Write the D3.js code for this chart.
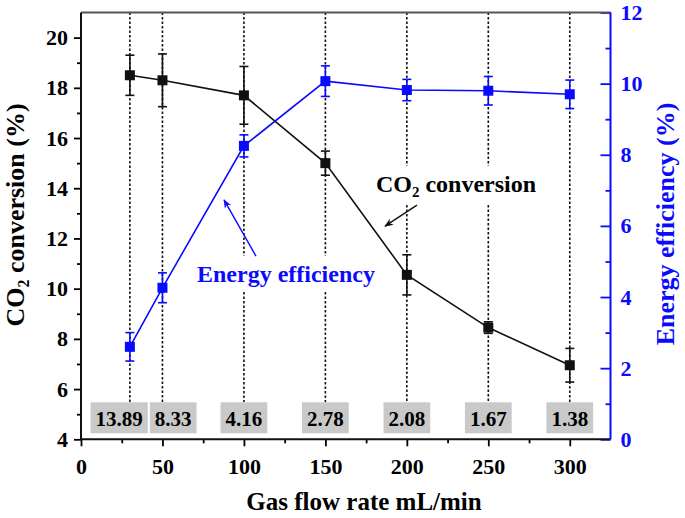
<!DOCTYPE html>
<html>
<head>
<meta charset="utf-8">
<script src="https://cdn.jsdelivr.net/npm/d3@7"></script>
<style>
  html, body { margin: 0; padding: 0; background: #fff; }
  svg { display: block; }
  text { font-family: "Liberation Serif", "Times New Roman", serif; font-weight: bold; }
</style>
</head>
<body>
<svg id="chart" width="685" height="518"></svg>
<script>
// ---------- data ----------
const flowRates = [30, 50, 100, 150, 200, 250, 300];
const co2Conversion = [18.5, 18.3, 17.7, 15.0, 10.55, 8.45, 6.95];
const co2Error = [0.8, 1.05, 1.15, 0.48, 0.8, 0.23, 0.67];
const energyEfficiency = [2.6, 4.26, 8.25, 10.07, 9.82, 9.8, 9.7];
const energyError = [0.4, 0.42, 0.31, 0.43, 0.3, 0.4, 0.4];
const residenceLabels = ["13.89", "8.33", "4.16", "2.78", "2.08", "1.67", "1.38"];
const xTicks = [0, 50, 100, 150, 200, 250, 300];
const xMinorTicks = [25, 75, 125, 175, 225, 275];
const leftTicks = [4, 6, 8, 10, 12, 14, 16, 18, 20];
const leftMinorTicks = [5, 7, 9, 11, 13, 15, 17, 19];
const rightTicks = [0, 2, 4, 6, 8, 10, 12];
const rightMinorTicks = [1, 3, 5, 7, 9, 11];

// ---------- layout ----------
const W = 685, H = 518;
const margin = { left: 81, right: 74.5, top: 12.5, bottom: 78.7 };
const iw = W - margin.left - margin.right;
const ih = H - margin.top - margin.bottom;
const BLUE = "#0a0aff";

const svg = d3.select("#chart");
const g = svg.append("g").attr("transform", `translate(${margin.left},${margin.top})`);

const x = d3.scaleLinear().domain([0, 325]).range([0, iw]);
const yL = d3.scaleLinear().domain([4, 21]).range([ih, 0]);
const yR = d3.scaleLinear().domain([0, 12]).range([ih, 0]);

// ---------- annotation labels (measured first to make gaps in guide lines) ----------
const annot = g.append("g").attr("class", "annot");
const co2Label = annot.append("text")
  .attr("x", x(181)).attr("y", yL(13.85))
  .attr("font-size", 24).attr("fill", "#000");
co2Label.append("tspan").text("CO");
co2Label.append("tspan").attr("font-size", 15).attr("dy", 5).text("2");
co2Label.append("tspan").attr("dy", -5).text(" conversion");

const effLabel = annot.append("text")
  .attr("x", x(71.2)).attr("y", yR(4.42))
  .attr("font-size", 24).attr("fill", BLUE)
  .text("Energy efficiency");

const labelBoxes = [co2Label.node().getBBox(), effLabel.node().getBBox()];

// ---------- residence-time boxes ----------
const boxTop = ih - 37, boxBottom = ih - 6;
const boxG = g.append("g");
const boxTexts = boxG.selectAll("text").data(residenceLabels).join("text")
  .attr("font-size", 21).attr("text-anchor", "middle")
  .attr("y", boxBottom - 7)
  .text(d => d);
let boxes = residenceLabels.map((d, i) => {
  const w = boxTexts.nodes()[i].getComputedTextLength() + 10;
  return { cx: x(flowRates[i]), w };
});
// simple overlap relaxation
for (let it = 0; it < 20; it++) {
  for (let i = 0; i < boxes.length - 1; i++) {
    const a = boxes[i], b = boxes[i + 1];
    const overlap = (a.cx + a.w / 2 + 2) - (b.cx - b.w / 2);
    if (overlap > 0) { a.cx -= overlap / 2; b.cx += overlap / 2; }
  }
}
boxG.selectAll("rect").data(boxes).join("rect")
  .attr("x", d => d.cx - d.w / 2).attr("width", d => d.w)
  .attr("y", boxTop).attr("height", boxBottom - boxTop)
  .attr("fill", "#c9c9c9");
boxTexts.attr("x", (d, i) => boxes[i].cx).raise();

// ---------- dashed guide lines ----------
const guides = g.insert("g", ":first-child");
flowRates.forEach(fr => {
  const px = x(fr);
  let segs = [[0, boxTop]];
  labelBoxes.forEach(bb => {
    if (px >= bb.x - 2 && px <= bb.x + bb.width + 2) {
      const g0 = bb.y - 5, g1 = bb.y + bb.height + 5;
      segs = segs.flatMap(([a, b]) => {
        if (g1 <= a || g0 >= b) return [[a, b]];
        const out = [];
        if (g0 > a) out.push([a, g0]);
        if (g1 < b) out.push([g1, b]);
        return out;
      });
    }
  });
  segs.forEach(([a, b]) => {
    guides.append("line")
      .attr("x1", px).attr("x2", px).attr("y1", a).attr("y2", b)
      .attr("stroke", "#111").attr("stroke-width", 1.6)
      .attr("stroke-dasharray", "2.5,2");
  });
});

// ---------- axes ----------
const axisFont = sel => sel.selectAll("text").attr("font-size", 22)
  .attr("font-family", "'Liberation Serif','Times New Roman',serif").attr("font-weight", "bold");

const xAxis = g.append("g").attr("transform", `translate(0,${ih})`)
  .call(d3.axisBottom(x).tickValues(xTicks).tickSize(7).tickPadding(12).tickFormat(d3.format("d")));
xAxis.call(axisFont);
const xMinor = g.append("g").attr("transform", `translate(0,${ih})`)
  .call(d3.axisBottom(x).tickValues(xMinorTicks).tickSize(4).tickFormat(""));

const yLAxis = g.append("g")
  .call(d3.axisLeft(yL).tickValues(leftTicks).tickSize(7).tickPadding(6).tickFormat(d3.format("d")));
yLAxis.call(axisFont);
const yLMinor = g.append("g")
  .call(d3.axisLeft(yL).tickValues(leftMinorTicks).tickSize(4).tickFormat(""));

const yRAxis = g.append("g").attr("transform", `translate(${iw},0)`)
  .call(d3.axisRight(yR).tickValues(rightTicks).tickSizeInner(-10).tickSizeOuter(0).tickPadding(10).tickFormat(d3.format("d")));
yRAxis.call(axisFont);
yRAxis.selectAll("text").attr("fill", BLUE);
yRAxis.selectAll("line").attr("stroke", BLUE);
const yRMinor = g.append("g").attr("transform", `translate(${iw},0)`)
  .call(d3.axisRight(yR).tickValues(rightMinorTicks).tickSizeInner(-5).tickSizeOuter(0).tickFormat(""));
yRMinor.selectAll("line").attr("stroke", BLUE);

[xAxis, xMinor, yLAxis, yLMinor, yRAxis, yRMinor].forEach(a => {
  a.select(".domain").remove();
  a.selectAll("line").attr("stroke-width", 1.8);
});
xAxis.selectAll("line, text").attr("fill", "#000");

// frame lines
g.append("line").attr("x1", 0).attr("x2", iw).attr("y1", 0).attr("y2", 0)
  .attr("stroke", "#555").attr("stroke-width", 2);
g.append("line").attr("x1", 0).attr("x2", iw).attr("y1", ih).attr("y2", ih)
  .attr("stroke", "#111").attr("stroke-width", 2);
g.append("line").attr("x1", 0).attr("x2", 0).attr("y1", 0).attr("y2", ih)
  .attr("stroke", "#111").attr("stroke-width", 2);
g.append("line").attr("x1", iw).attr("x2", iw).attr("y1", 0).attr("y2", ih)
  .attr("stroke", BLUE).attr("stroke-width", 2);

// ---------- series ----------
function drawSeries(vals, errs, yScale, color) {
  const pts = flowRates.map((f, i) => ({ f, v: vals[i], e: errs[i] }));
  g.append("path").datum(pts)
    .attr("d", d3.line().x(d => x(d.f)).y(d => yScale(d.v)))
    .attr("fill", "none").attr("stroke", color).attr("stroke-width", 1.6);
  const eb = g.append("g").attr("stroke", color).attr("stroke-width", 1.6);
  pts.forEach(d => {
    const px = x(d.f), y0 = yScale(d.v - d.e), y1 = yScale(d.v + d.e);
    eb.append("line").attr("x1", px).attr("x2", px).attr("y1", y0).attr("y2", y1);
    eb.append("line").attr("x1", px - 4.5).attr("x2", px + 4.5).attr("y1", y0).attr("y2", y0);
    eb.append("line").attr("x1", px - 4.5).attr("x2", px + 4.5).attr("y1", y1).attr("y2", y1);
  });
  g.append("g").selectAll("rect").data(pts).join("rect")
    .attr("x", d => x(d.f) - 5).attr("y", d => yScale(d.v) - 5)
    .attr("width", 10).attr("height", 10).attr("fill", color);
}
drawSeries(co2Conversion, co2Error, yL, "#111");
drawSeries(energyEfficiency, energyError, yR, BLUE);

annot.raise();

// ---------- arrows ----------
const defs = svg.append("defs");
function arrowMarker(id, color) {
  defs.append("marker").attr("id", id)
    .attr("viewBox", "0 0 10 10").attr("refX", 9).attr("refY", 5)
    .attr("markerWidth", 9).attr("markerHeight", 9).attr("markerUnits", "userSpaceOnUse")
    .attr("orient", "auto")
    .append("path").attr("d", "M0,1 L10,5 L0,9 L3,5 Z").attr("fill", color);
}
arrowMarker("arrBlack", "#111");
arrowMarker("arrBlue", BLUE);
g.append("line")
  .attr("x1", x(206.2)).attr("y1", yL(13.33)).attr("x2", x(186.6)).attr("y2", yL(12.49))
  .attr("stroke", "#111").attr("stroke-width", 1.4).attr("marker-end", "url(#arrBlack)");
g.append("line")
  .attr("x1", x(107.4)).attr("y1", yR(5.15)).attr("x2", x(87.8)).attr("y2", yR(6.73))
  .attr("stroke", BLUE).attr("stroke-width", 1.4).attr("marker-end", "url(#arrBlue)");

// ---------- axis titles ----------
const lt = svg.append("text")
  .attr("transform", "translate(24,215) rotate(-90)")
  .attr("text-anchor", "middle").attr("font-size", 26).attr("fill", "#000");
lt.append("tspan").text("CO");
lt.append("tspan").attr("font-size", 16).attr("dy", 5).text("2");
lt.append("tspan").attr("dy", -5).text(" conversion (%)");

svg.append("text")
  .attr("transform", "translate(674,224) rotate(-90)")
  .attr("text-anchor", "middle").attr("font-size", 26).attr("fill", BLUE)
  .text("Energy efficiency (%)");

svg.append("text")
  .attr("x", 364).attr("y", 510)
  .attr("text-anchor", "middle").attr("font-size", 25).attr("fill", "#000")
  .text("Gas flow rate mL/min");
</script>
</body>
</html>
